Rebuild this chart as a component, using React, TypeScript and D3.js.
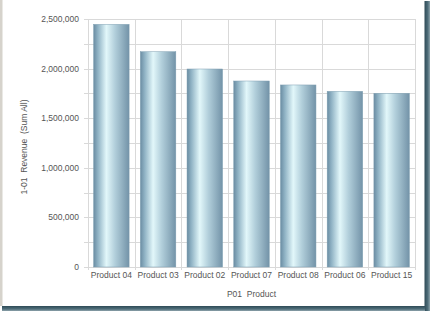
import React from "react";
import * as d3 from "d3";

const categories = ["Product 04", "Product 03", "Product 02", "Product 07", "Product 08", "Product 06", "Product 15"];
const revenue = [2446000, 2170000, 1996000, 1875000, 1835000, 1771000, 1751000];
const yTicks = [0, 500000, 1000000, 1500000, 2000000, 2500000];
const yGrid = [0, 250000, 500000, 750000, 1000000, 1250000, 1500000, 1750000, 2000000, 2250000, 2500000];

const W = 430;
const H = 311;
const M = { left: 88, right: 415, top: 19, bottom: 267 };

export default function App() {
  const x = d3.scaleBand<string>().domain(categories).range([M.left, M.right]).paddingInner(0).paddingOuter(0);
  const y = d3.scaleLinear().domain([0, 2500000]).range([M.bottom, M.top]);
  const fmt = d3.format(",");
  const bw = x.bandwidth();
  const barW = bw * 0.76;
  const textColor = "#555";
  const font = "'Liberation Sans', Arial, sans-serif";
  return (
    <div style={{ position: "absolute", left: 0, top: 0 }}>
      <svg width={W} height={H} style={{ display: "block" }}>
        <defs>
          <linearGradient id="barGrad" x1="0" x2="1" y1="0" y2="0">
            <stop offset="0%" stopColor="#6a8ca2" />
            <stop offset="12%" stopColor="#8fb2c4" />
            <stop offset="36%" stopColor="#e2f7fa" />
            <stop offset="60%" stopColor="#b2cfdb" />
            <stop offset="100%" stopColor="#7393a8" />
          </linearGradient>
          <linearGradient id="shadowR" x1="0" x2="1" y1="0" y2="0">
            <stop offset="0%" stopColor="#2e4a56" />
            <stop offset="60%" stopColor="#4f6e7a" />
            <stop offset="100%" stopColor="#8ea3ab" />
          </linearGradient>
          <linearGradient id="shadowB" x1="0" x2="0" y1="0" y2="1">
            <stop offset="0%" stopColor="#2e4a56" />
            <stop offset="60%" stopColor="#4f6e7a" />
            <stop offset="100%" stopColor="#8ea3ab" />
          </linearGradient>
        </defs>
        <rect x={0} y={0} width={W} height={H} fill="#ffffff" />
        <rect x={0} y={0} width={2.5} height={306} fill="#d6d3cc" />
        <rect x={424.5} y={1} width={5.5} height={H - 1} fill="url(#shadowR)" />
        <rect x={2} y={306} width={423} height={5} fill="url(#shadowB)" />
        {/* horizontal grid lines with ticks */}
        {yGrid.map((v) => (
          <line key={"h" + v} x1={M.left - 4} x2={M.right} y1={Math.round(y(v)) + 0.5} y2={Math.round(y(v)) + 0.5} stroke="#d9d9d9" strokeWidth={1} />
        ))}
        {/* vertical grid lines */}
        {categories.map((c) => (
          <line key={"v" + c} x1={Math.round(x(c)!) + 0.5} x2={Math.round(x(c)!) + 0.5} y1={M.top} y2={M.bottom + 3} stroke="#d9d9d9" strokeWidth={1} />
        ))}
        <line x1={M.right + 0.5} x2={M.right + 0.5} y1={M.top} y2={M.bottom + 3} stroke="#d9d9d9" strokeWidth={1} />
        {/* bars */}
        {categories.map((c, i) => (
          <rect
            key={"b" + c}
            x={x(c)! + (bw - barW) / 2}
            y={y(revenue[i])}
            width={barW}
            height={y(0) - y(revenue[i])}
            fill="url(#barGrad)"
            stroke="#7f9fb2"
            strokeWidth={0.5}
          />
        ))}
        {/* y tick labels */}
        {yTicks.map((v) => (
          <text key={"t" + v} x={79} y={y(v)} dy="0.35em" textAnchor="end" fontFamily={font} fontSize={8.5} fill={textColor}>
            {fmt(v)}
          </text>
        ))}
        {/* x labels */}
        {categories.map((c) => (
          <text key={"l" + c} x={x(c)! + bw / 2} y={275} dy="0.35em" textAnchor="middle" fontFamily={font} fontSize={8.5} fill={textColor}>
            {c}
          </text>
        ))}
        <text x={(M.left + M.right) / 2} y={294} dy="0.35em" textAnchor="middle" fontFamily={font} fontSize={8.5} fill={textColor} style={{ whiteSpace: "pre" }}>
          {"P01  Product"}
        </text>
        <text
          transform={`translate(24,147) rotate(-90)`}
          dy="0.35em"
          textAnchor="middle"
          fontFamily={font}
          fontSize={8.5}
          fill={textColor}
          style={{ whiteSpace: "pre" }}
        >
          {"1-01  Revenue  (Sum All)"}
        </text>
      </svg>
    </div>
  );
}
